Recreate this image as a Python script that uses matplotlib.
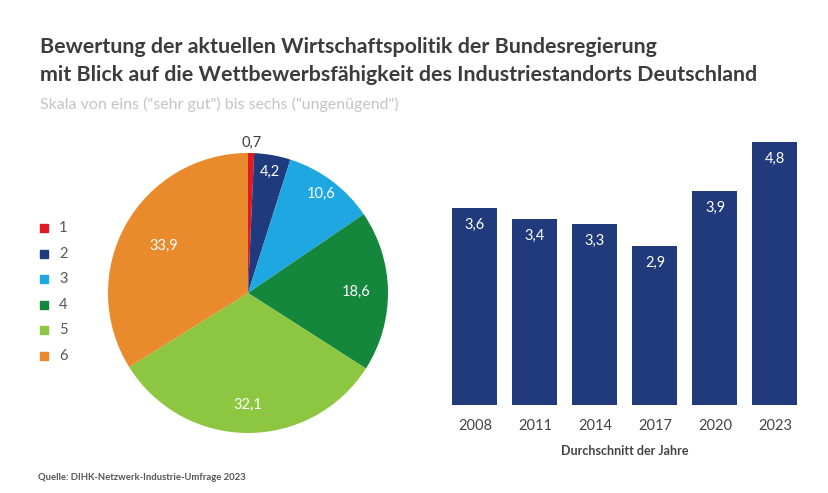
import numpy as np
import matplotlib.pyplot as plt

plt.rcParams['font.family'] = ['Lato', 'DejaVu Sans']

# Daten: Verteilung der Noten (in Prozent)
noten = ['1', '2', '3', '4', '5', '6']
anteile = [0.7, 4.2, 10.6, 18.6, 32.1, 33.9]
farben = ['#e01a22', '#1f3a7d', '#1ea7e0', '#15873c', '#8dc641', '#e98a2c']

# Durchschnitt der Jahre
jahre = ['2008', '2011', '2014', '2017', '2020', '2023']
durchschnitt = [3.6, 3.4, 3.3, 2.9, 3.9, 4.8]
balken_farbe = '#213a7c'

W, H = 829, 493
fig = plt.figure(figsize=(W / 100, H / 100), dpi=100)
fig.patch.set_facecolor('white')

# Titel
fig.text(40 / W, 1 - 47 / H, 'Bewertung der aktuellen Wirtschaftspolitik der Bundesregierung',
         fontsize=15.4, fontweight='bold', color='#3c3c3c', va='center', ha='left')
fig.text(40 / W, 1 - 75 / H, 'mit Blick auf die Wettbewerbsfähigkeit des Industriestandorts Deutschland',
         fontsize=15.4, fontweight='bold', color='#3c3c3c', va='center', ha='left')
fig.text(40 / W, 1 - 104 / H, 'Skala von eins ("sehr gut") bis sechs ("ungenügend")',
         fontsize=11.5, color='#c4c4c4', va='center', ha='left')
fig.text(38 / W, 1 - 477 / H, 'Quelle: DIHK-Netzwerk-Industrie-Umfrage 2023',
         fontsize=6.8, fontweight='bold', color='#555555', va='center', ha='left')

# Kreisdiagramm
ax1 = fig.add_axes([108 / W, 60 / H, 280 / W, 280 / H])
wedges, _ = ax1.pie(anteile, colors=farben, startangle=90, counterclock=False,
                    radius=1, wedgeprops=dict(linewidth=0))
ax1.set_xlim(-1, 1)
ax1.set_ylim(-1, 1)
ax1.set_aspect('equal')

# Position der Beschriftungen (relativer Radius)
abstand = [1.07, 0.88, 0.88, 0.77, 0.8, 0.69]
for w, wert, r in zip(wedges, anteile, abstand):
    winkel = np.deg2rad((w.theta1 + w.theta2) / 2)
    farbe = '#3c3c3c' if r > 1 else 'white'
    ax1.text(r * np.cos(winkel), r * np.sin(winkel), f'{wert:.1f}'.replace('.', ','),
             ha='center', va='center', fontsize=10.5, color=farbe)

# Legende
for i, (n, f) in enumerate(zip(noten, farben)):
    y = 1 - (228 + i * 25.6) / H
    fig.patches.append(plt.Rectangle((40 / W, y - 4 / H), 8 / W, 8 / H,
                                     transform=fig.transFigure, color=f))
    fig.text(59 / W, y, n, fontsize=10.5, color='#555555', va='center', ha='left')

# Balkendiagramm
ax2 = fig.add_axes([445 / W, 88 / H, 360 / W, 263 / H])
x = np.arange(len(jahre))
balken = ax2.bar(x, durchschnitt, width=0.75, color=balken_farbe)
for b, wert in zip(balken, durchschnitt):
    ax2.text(b.get_x() + b.get_width() / 2, wert - 0.31, f'{wert:.1f}'.replace('.', ','),
             ha='center', va='center', color='white', fontsize=10.5)
ax2.set_xlim(-0.5, len(jahre) - 0.5)
ax2.set_ylim(0, 4.8)
ax2.set_xticks(x)
ax2.set_xticklabels(jahre, fontsize=10.5, color='#444444')
ax2.tick_params(axis='x', length=0, pad=10)
ax2.set_yticks([])
for s in ax2.spines.values():
    s.set_visible(False)
ax2.set_xlabel('Durchschnitt der Jahre', fontsize=9, fontweight='bold', color='#444444', labelpad=9)

fig.savefig('out.png', dpi=100)
